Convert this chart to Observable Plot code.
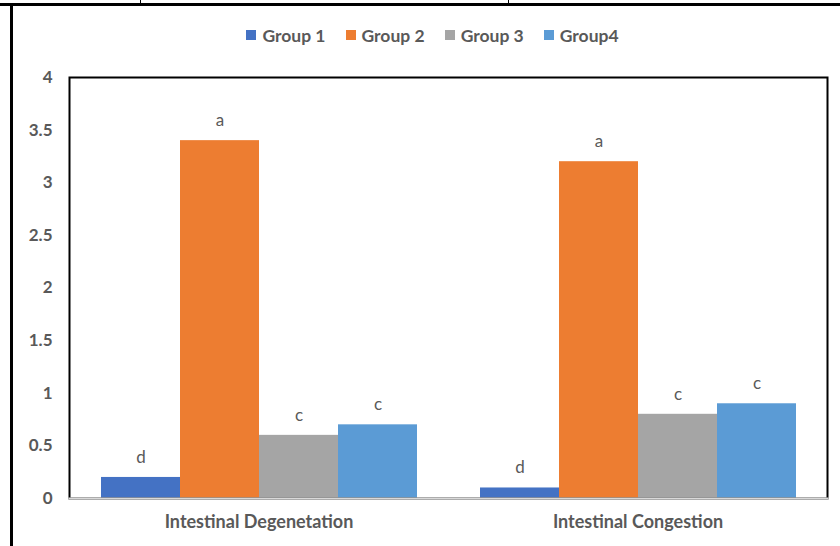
<!DOCTYPE html>
<html>
<head>
<meta charset="utf-8">
<script src="https://cdn.jsdelivr.net/npm/d3@7"></script>
<script src="https://cdn.jsdelivr.net/npm/@observablehq/plot@0.6"></script>
<style>
  html, body { margin: 0; padding: 0; background: white; }
  #wrap { position: relative; width: 840px; height: 546px; overflow: hidden; background: white; font-family: Lato, "Open Sans", sans-serif; }
  .rule { position: absolute; background: #000; }
  #legend { height: 60px; display: flex; justify-content: center; align-items: center; gap: 20px; padding-left: 25px; padding-top: 10px; box-sizing: border-box; }
  .item { display: flex; align-items: center; font-size: 17.5px; font-weight: bold; color: #595959; }
  .swatch { width: 10px; height: 10px; margin-right: 6px; }
  #chart svg { display: block; }
</style>
</head>
<body>
<div id="wrap">
  <div class="rule" style="left:0;top:3px;width:840px;height:3px"></div>
  <div class="rule" style="left:140px;top:0;width:1px;height:3px"></div>
  <div class="rule" style="left:508px;top:0;width:1px;height:3px"></div>
  <div class="rule" style="left:10px;top:4px;width:3px;height:542px"></div>
  <div id="legend"></div>
  <div id="chart"></div>
</div>
<script>
// Lesion scores per group for each intestinal finding
const categories = ["Intestinal Degenetation", "Intestinal Congestion"];
const groups = ["Group 1", "Group 2", "Group 3", "Group4"];
const colors = ["#4472C4", "#ED7D31", "#A5A5A5", "#5B9BD5"];
const degenerationValues = [0.2, 3.4, 0.6, 0.7];
const congestionValues = [0.1, 3.2, 0.8, 0.9];
const degenerationLetters = ["d", "a", "c", "c"];
const congestionLetters = ["d", "a", "c", "c"];
const yTicks = [0, 0.5, 1, 1.5, 2, 2.5, 3, 3.5, 4];

const rows = [];
groups.forEach((g, i) => {
  rows.push({category: categories[0], group: g, value: degenerationValues[i], letter: degenerationLetters[i]});
  rows.push({category: categories[1], group: g, value: congestionValues[i], letter: congestionLetters[i]});
});

// Legend row above the chart
const legend = document.getElementById("legend");
groups.forEach((g, i) => {
  const item = document.createElement("div");
  item.className = "item";
  const sw = document.createElement("span");
  sw.className = "swatch";
  sw.style.background = colors[i];
  item.appendChild(sw);
  item.appendChild(document.createTextNode(g));
  legend.appendChild(item);
});

const labelStyle = {fontWeight: "bold", fill: "#595959"};

const chart = Plot.plot({
  width: 840,
  height: 486,
  marginLeft: 68,
  marginRight: 13,
  marginTop: 17,
  marginBottom: 48,
  style: {fontFamily: "Lato, 'Open Sans', sans-serif", background: "white"},
  fx: {domain: categories, padding: 0, label: null},
  x: {domain: groups, paddingInner: 0, paddingOuter: 0.39, axis: null},
  y: {domain: [0, 4], label: null},
  color: {domain: groups, range: colors},
  marks: [
    Plot.barY(rows, {fx: "category", x: "group", y: "value", fill: "group"}),
    Plot.text(rows, {fx: "category", x: "group", y: "value", text: "letter", dy: -20, fontSize: 17, fill: "#595959"}),
    Plot.frame({facet: "super", stroke: "black", strokeWidth: 2}),
    Plot.frame({facet: "super", anchor: "bottom", stroke: "#d9d9d9", strokeWidth: 2}),
    Plot.axisY({ticks: yTicks, tickFormat: (d) => String(d), tickSize: 0, tickPadding: 17, label: null, fontSize: 17, ...labelStyle}),
    Plot.axisFx({anchor: "bottom", tickSize: 0, tickPadding: 17, label: null, fontSize: 18, ...labelStyle})
  ]
});
document.getElementById("chart").appendChild(chart);
</script>
</body>
</html>
